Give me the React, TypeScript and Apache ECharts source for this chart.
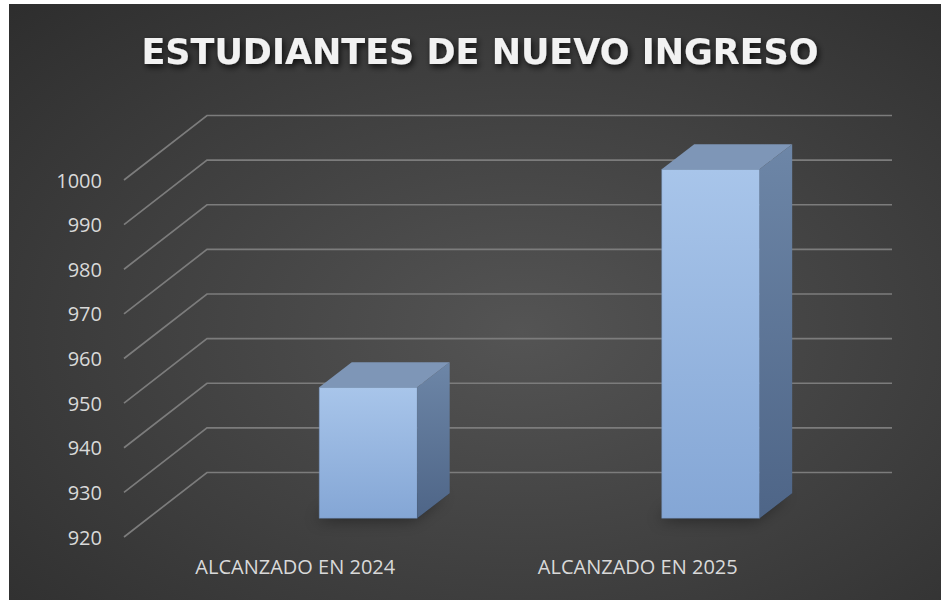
import React, { useEffect, useRef } from "react";
import * as echarts from "echarts";

const chartTitle = "ESTUDIANTES DE NUEVO INGRESO";
const categories = ["ALCANZADO EN 2024", "ALCANZADO EN 2025"];
const values = [950, 1000];
const yTicks = [920, 930, 940, 950, 960, 970, 980, 990, 1000];

// oblique depth offsets of the 3D walls and bars
const WALL_DX = 83;
const WALL_DY = -64.5;
const BAR_DX = 32.5;
const BAR_DY = -25;

export default function App() {
  const ref = useRef<HTMLDivElement>(null);

  useEffect(() => {
    if (!ref.current) return;
    const chart = echarts.init(ref.current, null, { renderer: "svg" });
    const font = "'Open Sans', 'Noto Sans', sans-serif";

    const option = {
      animation: false,
      backgroundColor: "#ffffff",
      graphic: [
        {
          type: "rect",
          z: 0,
          shape: { x: 9, y: 4, width: 932, height: 596 },
          style: {
            fill: new echarts.graphic.RadialGradient(0.55, 0.55, 0.95, [
              { offset: 0, color: "#545454" },
              { offset: 1, color: "#252525" },
            ]),
          },
          silent: true,
        },
        {
          type: "text",
          z: 10,
          x: 480,
          y: 52,
          style: {
            text: chartTitle,
            textAlign: "center",
            textVerticalAlign: "middle",
            fill: "#f2f2f2",
            font: "bold 35px 'DejaVu Sans', sans-serif",
            textShadowColor: "rgba(0,0,0,0.75)",
            textShadowBlur: 6,
            textShadowOffsetX: 2,
            textShadowOffsetY: 3,
          },
        },
      ],
      grid: { left: 124, top: 180, width: 685, height: 357, containLabel: false },
      xAxis: {
        type: "category",
        data: categories,
        axisLine: { show: false },
        axisTick: { show: false },
        splitLine: { show: false },
        axisLabel: { color: "#d9d9d9", fontSize: 20, fontFamily: font, margin: 19 },
      },
      yAxis: {
        type: "value",
        min: yTicks[0],
        max: yTicks[yTicks.length - 1],
        interval: 10,
        axisLine: { show: false },
        axisTick: { show: false },
        splitLine: { show: false },
        axisLabel: {
          color: "#d9d9d9",
          fontSize: 20,
          fontFamily: font,
          margin: 22,
          formatter: (v: number) => String(v),
        },
      },
      series: [
        {
          type: "custom",
          z: 1,
          silent: true,
          data: yTicks.map((v) => [0, v]),
          renderItem: (params: any, api: any) => {
            const cs = params.coordSys;
            const y = api.coord([0, api.value(1)])[1];
            return {
              type: "polyline",
              shape: {
                points: [
                  [cs.x, y],
                  [cs.x + WALL_DX, y + WALL_DY],
                  [cs.x + cs.width + WALL_DX, y + WALL_DY],
                ],
              },
              style: { stroke: "#7c7c7c", lineWidth: 1.7, fill: null },
            };
          },
        },
        {
          type: "custom",
          z: 3,
          data: values.map((v, i) => [i, v]),
          renderItem: (params: any, api: any) => {
            const idx = api.value(0);
            const v = api.value(1);
            const top = api.coord([idx, v]);
            const base = api.coord([idx, yTicks[0]]);
            const bw = api.size([1, 0])[0];
            const fw = bw * 0.286;
            const cx = top[0] + bw * 0.213;
            const y0 = base[1] - 18.7;
            const y1 = y0 - (base[1] - top[1]) * 0.978;
            const x0 = cx - fw / 2;
            const x1 = cx + fw / 2;
            return {
              type: "group",
              children: [
                {
                  type: "polygon",
                  shape: {
                    points: [
                      [x0, y0],
                      [x1, y0],
                      [x1 + BAR_DX, y0 + BAR_DY],
                      [x0 + BAR_DX, y0 + BAR_DY],
                    ],
                  },
                  style: {
                    fill: "rgba(0,0,0,0.5)",
                    shadowBlur: 16,
                    shadowOffsetX: -5,
                    shadowOffsetY: 2,
                    shadowColor: "rgba(0,0,0,0.85)",
                  },
                },
                {
                  type: "rect",
                  shape: { x: x0, y: y1, width: fw, height: y0 - y1 },
                  style: {
                    fill: new echarts.graphic.LinearGradient(0, 0, 0, 1, [
                      { offset: 0, color: "#a8c5ea" },
                      { offset: 1, color: "#84a6d5" },
                    ]),
                    stroke: "rgba(110,140,180,0.7)",
                    lineWidth: 0.6,
                  },
                },
                {
                  type: "polygon",
                  shape: {
                    points: [
                      [x1, y1],
                      [x1 + BAR_DX, y1 + BAR_DY],
                      [x1 + BAR_DX, y0 + BAR_DY],
                      [x1, y0],
                    ],
                  },
                  style: {
                    fill: new echarts.graphic.LinearGradient(0, 0, 0, 1, [
                      { offset: 0, color: "#6d86a7" },
                      { offset: 1, color: "#4e6587" },
                    ]),
                  },
                },
                {
                  type: "polygon",
                  shape: {
                    points: [
                      [x0, y1],
                      [x0 + BAR_DX, y1 + BAR_DY],
                      [x1 + BAR_DX, y1 + BAR_DY],
                      [x1, y1],
                    ],
                  },
                  style: { fill: "#7e96b7" },
                },
              ],
            };
          },
        },
      ],
    };

    chart.setOption(option as any);
    return () => chart.dispose();
  }, []);

  return (
    <div
      ref={ref}
      style={{ position: "fixed", left: 0, top: 0, width: 941, height: 600 }}
    />
  );
}
